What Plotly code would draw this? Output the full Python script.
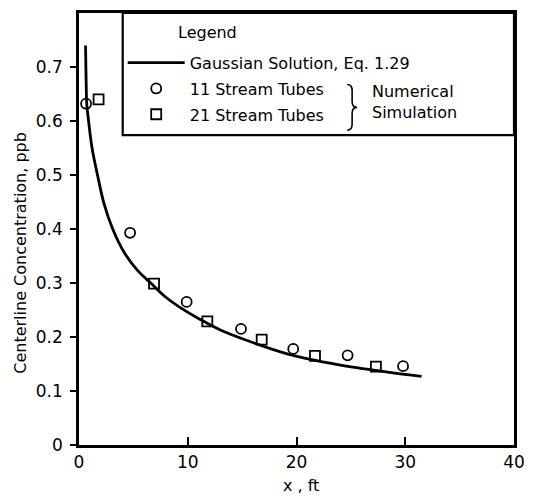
import plotly.graph_objects as go

# ---- data ----
gauss_x = [0.6, 0.65, 0.72, 0.88, 1.2, 1.7, 2.3, 3.1, 4.2, 5.4, 6.7, 7.9, 9.5, 11.1, 13.0, 15.4, 19.3, 23.8, 28.4, 31.5]
gauss_y = [0.74, 0.68, 0.63, 0.60, 0.55, 0.50, 0.447, 0.40, 0.355, 0.323, 0.298, 0.275, 0.252, 0.233, 0.213, 0.194, 0.168, 0.149, 0.135, 0.127]

tubes11_x = [0.65, 4.7, 9.9, 14.9, 19.7, 24.7, 29.8]
tubes11_y = [0.632, 0.393, 0.265, 0.215, 0.178, 0.166, 0.146]

tubes21_x = [1.8, 6.9, 11.8, 16.8, 21.7, 27.3]
tubes21_y = [0.640, 0.299, 0.229, 0.195, 0.165, 0.145]

x_ticks = [0, 10, 20, 30, 40]
x_ticktext = ["0", "10", "20", "30", "40"]
y_ticks = [0, 0.1, 0.2, 0.3, 0.4, 0.5, 0.6, 0.7]
y_ticktext = ["0", "0.1", "0.2", "0.3", "0.4", "0.5", "0.6", "0.7"]

names = ["Gaussian Solution, Eq. 1.29", "11 Stream Tubes", "21 Stream Tubes"]

# ---- layout geometry (pixels) ----
W, H = 535, 497
L, R, T, B = 79, 517, 10, 445
FONT = "DejaVu Sans"


def fx(p):
    return (p - L) / (R - L)


def fy(p):
    return (B - p) / (B - T)


fig = go.Figure()
fig.add_trace(go.Scatter(
    x=gauss_x, y=gauss_y, mode="lines", name=names[0], legendgroup="a",
    line=dict(color="black", width=2.8, shape="spline", smoothing=1.0),
))
fig.add_trace(go.Scatter(
    x=tubes11_x, y=tubes11_y, mode="markers", name=names[1], legendgroup="b",
    marker=dict(symbol="circle-open", size=10, color="black", line=dict(width=1.8, color="black")),
))
fig.add_trace(go.Scatter(
    x=tubes21_x, y=tubes21_y, mode="markers", name=names[2], legendgroup="c",
    marker=dict(symbol="square-open", size=10, color="black", line=dict(width=1.8, color="black")),
))

axis_common = dict(
    showline=True, linecolor="black", linewidth=2.5, mirror=True,
    showgrid=False, zeroline=False, tickcolor="black", tickwidth=2,
    tickfont=dict(family=FONT, size=17, color="black"),
)

fig.update_xaxes(range=[0, 40], tickmode="array", tickvals=x_ticks, ticktext=x_ticktext,
                 ticks="inside", ticklen=8, ticklabelstandoff=0, **axis_common)
fig.update_yaxes(range=[0, 0.8], tickmode="array", tickvals=y_ticks, ticktext=y_ticktext,
                 ticks="outside", ticklen=6, ticklabelstandoff=4, **axis_common)

annotations = [
    dict(text="Centerline Concentration, ppb", x=fx(20), y=fy(251), textangle=-90,
         font=dict(family=FONT, size=16, color="black")),
    dict(text="x , ft", x=fx(303), y=fy(486), font=dict(family=FONT, size=16, color="black")),
    dict(text="Legend", x=fx(177), y=fy(30), xanchor="left",
         font=dict(family=FONT, size=16, color="black")),
    dict(text="Numerical<br>Simulation", x=fx(372), y=fy(100), xanchor="left", align="left",
         font=dict(family=FONT, size=16, color="black")),
]
for a in annotations:
    a.update(xref="paper", yref="paper", showarrow=False)
    a.setdefault("xanchor", "center")
    a.setdefault("yanchor", "middle")

brace_pts = [(349, 82), (354, 82), (354, 88), (354, 99), (354, 105), (359, 105),
             (354, 105), (354, 111), (354, 122), (354, 128), (349, 128)]
p = [(fx(a), fy(b)) for a, b in brace_pts]
brace_path = (f"M {p[0][0]},{p[0][1]} Q {p[1][0]},{p[1][1]} {p[2][0]},{p[2][1]} "
              f"L {p[3][0]},{p[3][1]} Q {p[4][0]},{p[4][1]} {p[5][0]},{p[5][1]} "
              f"Q {p[6][0]},{p[6][1]} {p[7][0]},{p[7][1]} L {p[8][0]},{p[8][1]} "
              f"Q {p[9][0]},{p[9][1]} {p[10][0]},{p[10][1]}")

shapes = [
    dict(type="rect", xref="paper", yref="paper", x0=fx(123), x1=1, y0=fy(133), y1=1,
         line=dict(color="black", width=2.2), fillcolor="rgba(0,0,0,0)"),
    dict(type="path", xref="paper", yref="paper", path=brace_path,
         line=dict(color="black", width=1.6)),
]

fig.update_layout(
    width=W, height=H,
    margin=dict(l=L, r=W - R, t=T, b=H - B, pad=0),
    paper_bgcolor="white", plot_bgcolor="white",
    showlegend=True,
    legend=dict(x=fx(123), y=fy(43), xanchor="left", yanchor="top",
                bgcolor="rgba(0,0,0,0)", borderwidth=0, itemwidth=57,
                tracegroupgap=2, font=dict(family=FONT, size=16, color="black")),
    annotations=annotations,
    shapes=shapes,
)

fig.write_html("out.html")
